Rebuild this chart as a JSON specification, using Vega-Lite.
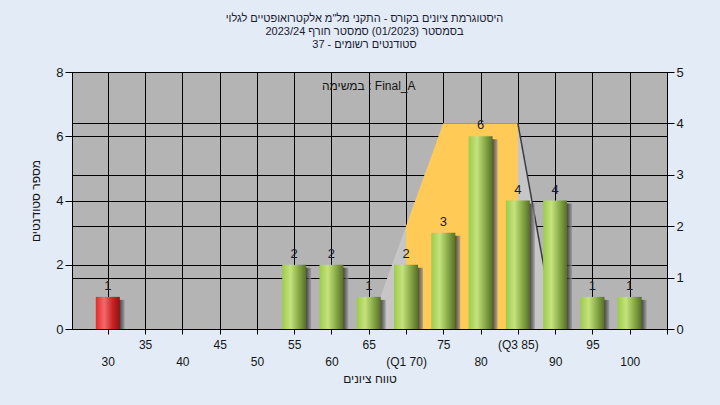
{
  "$schema": "https://vega.github.io/schema/vega-lite/v6.json",
  "width": 595,
  "height": 257,
  "autosize": "none",
  "padding": {"left": 72, "top": 72, "right": 53, "bottom": 76},
  "background": "#e2ebf6",
  "config": {
    "view": {"fill": "#b4b4b4", "stroke": "#000000", "strokeWidth": 1},
    "font": "Liberation Sans",
    "axis": {
      "domainColor": "#000000",
      "tickColor": "#000000",
      "gridColor": "#000000",
      "gridOpacity": 1,
      "gridWidth": 1,
      "labelColor": "#151515",
      "titleColor": "#151515",
      "labelFont": "Liberation Sans",
      "titleFont": "Liberation Sans",
      "titleFontWeight": "normal"
    },
    "axisX": {
      "values": [30, 35, 40, 45, 50, 55, 60, 65, 70, 75, 80, 85, 90, 95, 100, 105],
      "labelExpr": "datum.value == 70 ? '(Q1 70)' : datum.value == 85 ? '(Q3 85)' : (datum.value < 30 || datum.value > 100) ? '' : datum.label",
      "grid": true,
      "tickSize": 5,
      "labelFontSize": 12,
      "labelOverlap": false,
      "labelFlush": false,
      "labelBound": false,
      "labelPadding": {"condition": {"test": "datum.value % 10 === 0", "value": 22}, "value": 5},
      "titleFontSize": 12,
      "titlePadding": 6
    }
  },
  "title": {
    "text": [
      "היסטוגרמת ציונים בקורס - התקני מל\"מ אלקטרואופטיים לגלוי",
      "בסמסטר  (01/2023)  סמסטר חורף  2023/24",
      "סטודנטים רשומים - 37"
    ],
    "fontSize": 11,
    "fontWeight": "normal",
    "color": "#1a1a30",
    "anchor": "middle",
    "frame": "group",
    "offset": 16,
    "lineHeight": 13,
    "dx": -5
  },
  "datasets": {
    "grades": [
      {"score": 30, "n": 1},
      {"score": 55, "n": 2},
      {"score": 60, "n": 2},
      {"score": 65, "n": 1},
      {"score": 70, "n": 2},
      {"score": 75, "n": 3},
      {"score": 80, "n": 6},
      {"score": 85, "n": 4},
      {"score": 90, "n": 4},
      {"score": 95, "n": 1},
      {"score": 100, "n": 1}
    ],
    "trap": [
      {"score": 65, "v": 0},
      {"score": 70, "v": 2},
      {"score": 75, "v": 4},
      {"score": 85, "v": 4},
      {"score": 90, "v": 0}
    ],
    "box": [
      {"score": 70, "v": 2},
      {"score": 75, "v": 4},
      {"score": 85, "v": 4}
    ],
    "edge": [
      {"score": 85, "v": 4},
      {"score": 90, "v": 0}
    ],
    "note": [
      {"label": "במשימה : Final_A"}
    ]
  },
  "layer": [
    {
      "encoding": {
        "x": {
          "field": "score",
          "type": "quantitative",
          "scale": {"domain": [25.2, 105], "nice": false, "zero": false, "padding": 0},
          "title": "טווח ציונים"
        },
        "y": {
          "field": "v",
          "type": "quantitative",
          "scale": {"domain": [0, 5], "nice": false},
          "axis": {
            "orient": "right",
            "values": [0, 1, 2, 3, 4, 5],
            "grid": true,
            "tickSize": 7,
            "labelFontSize": 13,
            "labelPadding": 2,
            "title": null
          }
        }
      },
      "layer": [
        {
          "data": {"name": "trap"},
          "mark": {"type": "area", "color": "#c6c6c6", "opacity": 1}
        },
        {
          "data": {"name": "box"},
          "mark": {"type": "area", "color": "#ffca55", "opacity": 1}
        },
        {
          "data": {"name": "edge"},
          "mark": {"type": "line", "color": "#3c3c3c", "strokeWidth": 1.5}
        }
      ]
    },
    {
      "encoding": {
        "x": {
          "field": "score",
          "type": "quantitative",
          "scale": {"domain": [25.2, 105], "nice": false, "zero": false, "padding": 0},
          "title": "טווח ציונים"
        },
        "y": {
          "field": "n",
          "type": "quantitative",
          "scale": {"domain": [0, 8], "nice": false},
          "axis": {
            "orient": "left",
            "values": [0, 2, 4, 6, 8],
            "grid": true,
            "tickSize": 7,
            "labelFontSize": 13,
            "labelPadding": 2,
            "title": "מספר סטודנטים",
            "titleFontSize": 12,
            "titlePadding": 13
          }
        }
      },
      "layer": [
        {
          "data": {"name": "grades"},
          "mark": {
            "type": "bar",
            "size": 24,
            "xOffset": 5,
            "yOffset": 3,
            "clip": true,
            "opacity": 0.75,
            "color": {
              "gradient": "linear",
              "x1": 0, "y1": 0, "x2": 1, "y2": 0,
              "stops": [
                {"offset": 0, "color": "#202020"},
                {"offset": 0.8, "color": "#2a2a2a"},
                {"offset": 1, "color": "#9a9a9a"}
              ]
            }
          }
        },
        {
          "data": {"name": "grades"},
          "transform": [{"filter": "datum.score >= 55"}],
          "mark": {
            "type": "bar",
            "size": 24,
            "color": {
              "gradient": "linear",
              "x1": 0, "y1": 0, "x2": 1, "y2": 0,
              "stops": [
                {"offset": 0, "color": "#9dcb4c"},
                {"offset": 0.35, "color": "#c4e27e"},
                {"offset": 0.7, "color": "#86a844"},
                {"offset": 1, "color": "#566f28"}
              ]
            }
          }
        },
        {
          "data": {"name": "grades"},
          "transform": [{"filter": "datum.score < 55"}],
          "mark": {
            "type": "bar",
            "size": 24,
            "color": {
              "gradient": "linear",
              "x1": 0, "y1": 0, "x2": 1, "y2": 0,
              "stops": [
                {"offset": 0, "color": "#e42a2a"},
                {"offset": 0.35, "color": "#f26a6a"},
                {"offset": 0.7, "color": "#c82424"},
                {"offset": 1, "color": "#921212"}
              ]
            }
          }
        },
        {
          "data": {"name": "grades"},
          "mark": {"type": "text", "fontSize": 13, "color": "#1a1a30", "baseline": "alphabetic", "dy": -7},
          "encoding": {"text": {"field": "n", "type": "quantitative"}}
        }
      ]
    },
    {
      "data": {"name": "note"},
      "mark": {"type": "text", "fontSize": 12, "color": "#151515", "baseline": "middle"},
      "encoding": {
        "x": {"datum": 65, "type": "quantitative", "scale": {"domain": [25.2, 105], "nice": false, "zero": false, "padding": 0}, "title": "טווח ציונים"},
        "y": {"datum": 7.55, "type": "quantitative", "scale": {"domain": [0, 8], "nice": false}, "axis": null},
        "text": {"field": "label", "type": "nominal"}
      }
    }
  ],
  "resolve": {"scale": {"y": "independent"}}
}
